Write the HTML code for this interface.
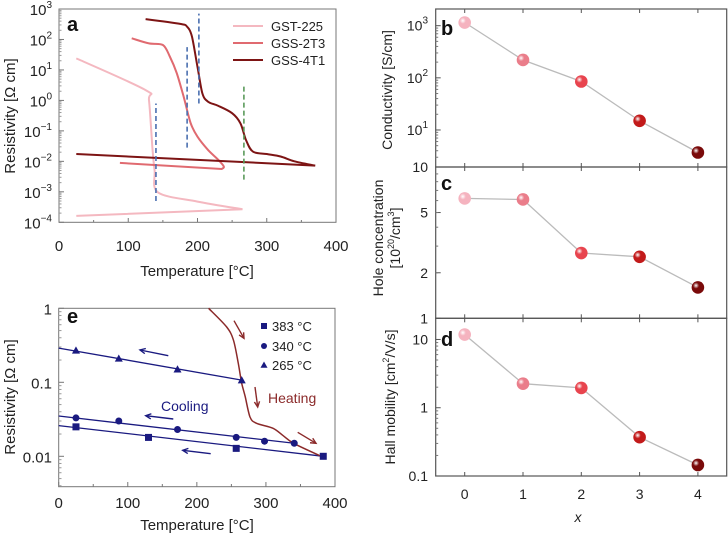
<!DOCTYPE html>
<html><head><meta charset="utf-8">
<style>
html,body{margin:0;padding:0;background:#fff;}
svg{display:block;font-family:"Liberation Sans",Arial,sans-serif;}
</style></head>
<body>
<svg id="fig" width="728" height="533" viewBox="0 0 728 533" xmlns="http://www.w3.org/2000/svg"></svg>
<script>
// ---------- Panel a data ----------
const gstT=[25,125,130,135,138,143,200,265,25];
const gstLog=[1.38,0.34,0.0,-1.6,-2.3,-3.02,-3.32,-3.57,-3.79];
const t23T=[105,130,150,160,170,180,190,200,215,230,238,235,88];
const t23Log=[2.04,1.87,1.82,1.44,0.9,0.12,-0.74,-1.19,-1.62,-1.95,-2.17,-2.25,-2.05];
const t41T=[125,175,185,192,200,207,215,230,250,262,270,280,300,320,340,370,25];
const t41Log=[2.67,2.51,2.42,2.09,1.1,0.24,-0.04,-0.18,-0.42,-0.75,-1.3,-1.68,-1.76,-1.84,-2.0,-2.14,-1.76];
const dashT=[140,185,202,267];
const dashLo=[-3.3,-1.55,-0.1,-2.6];
const dashHi=[-0.1,1.75,2.85,0.55];
const dashColors=["#4a6fb0","#4a6fb0","#4a6fb0","#5a9a5a"];
const aXTicks=[0,100,200,300,400];
const aYTicks=[-4,-3,-2,-1,0,1,2,3];
// ---------- Panel e data ----------
const triT=[25,87,172,265], triV=[0.27,0.21,0.15,0.107];
const cirT=[25,87,172,257,298,341], cirV=[0.033,0.030,0.023,0.018,0.016,0.015];
const sqT=[25,130,257,383], sqV=[0.025,0.018,0.0128,0.01];
const fitTri=[[0,0.29],[265,0.107]];
const fitCir=[[0,0.035],[341,0.015]];
const fitSq=[[0,0.026],[383,0.01]];
const heatT=[217,243,253,260,265,270,277,286,310,325,340,380];
const heatV=[1,0.56,0.37,0.18,0.097,0.064,0.034,0.028,0.024,0.019,0.015,0.01];
const eXTicks=[0,100,200,300,400];
// ---------- Panels b,c,d data ----------
const xCats=[0,1,2,3,4];
const condVals=[1150,220,85,15,3.7];
const holeVals=[6.2,6.1,2.7,2.55,1.6];
const mobVals=[11.8,2.25,1.95,0.37,0.145];
const dotColors=["#f5b3bf","#ea7d8a","#e8444e","#c21a1a","#7a0a0a"];

const NS="http://www.w3.org/2000/svg";
const svg=document.getElementById('fig');
function el(tag,attrs,parent){const e=document.createElementNS(NS,tag);for(const k in attrs)e.setAttribute(k,attrs[k]);(parent||svg).appendChild(e);return e;}
function txt(x,y,s,attrs,parent){const t=el('text',Object.assign({x:x,y:y},attrs||{}),parent);t.textContent=s;return t;}
// smooth path through points (Catmull-Rom); last segment straight if 'lastStraight'
function smooth(pts,lastStraight){
 const n=lastStraight?pts.length-1:pts.length;
 let d='M'+pts[0][0].toFixed(1)+','+pts[0][1].toFixed(1);
 for(let i=0;i<n-1;i++){
  const p0=pts[Math.max(0,i-1)],p1=pts[i],p2=pts[i+1],p3=pts[Math.min(n-1,i+2)];
  const k=0.16;
  const c1=[p1[0]+(p2[0]-p0[0])*k,p1[1]+(p2[1]-p0[1])*k];
  const c2=[p2[0]-(p3[0]-p1[0])*k,p2[1]-(p3[1]-p1[1])*k];
  d+=` C${c1[0].toFixed(1)},${c1[1].toFixed(1)} ${c2[0].toFixed(1)},${c2[1].toFixed(1)} ${p2[0].toFixed(1)},${p2[1].toFixed(1)}`;
 }
 if(lastStraight){const q=pts[pts.length-1];d+=` L${q[0].toFixed(1)},${q[1].toFixed(1)}`;}
 return d;}

const defs=el('defs',{});
dotColors.forEach((c,i)=>{const g=el('radialGradient',{id:'g'+i,cx:'0.35',cy:'0.35',r:'0.7'},defs);
el('stop',{offset:'0','stop-color':'#ffffff'},g);el('stop',{offset:'0.35','stop-color':c},g);el('stop',{offset:'1','stop-color':c},g);});

// ================= Panel a =================
const ga=el('g',{});


const aX=t=>59+(t/400)*277;
const aY=l=>9+(3-l)*30.47;
el('rect',{x:59,y:9,width:277,height:213.3,fill:'none',stroke:'#777','stroke-width':1},ga);
aXTicks.forEach(t=>{el('line',{x1:aX(t),x2:aX(t),y1:222.3,y2:218,stroke:'#777'},ga);
 const lb=txt(aX(t),251,String(t),{'font-size':15,'text-anchor':'middle',fill:'#222'},ga);
 });
for(let t=50;t<400;t+=100)el('line',{x1:aX(t),x2:aX(t),y1:222.3,y2:220,stroke:'#777'},ga);
aYTicks.forEach(l=>{el('line',{x1:59,x2:64,y1:aY(l),y2:aY(l),stroke:'#777'},ga);
 const lb=txt(52,aY(l)+6,'10',{'font-size':15,'text-anchor':'end',fill:'#222'},ga);
 const s=el('tspan',{dy:-7,'font-size':10},lb);s.textContent=l<0?'\u2212'+(-l):String(l);
 
 if(l<3)for(let m=2;m<10;m++){const yy=aY(l+Math.log10(m));el('line',{x1:59,x2:61.5,y1:yy,y2:yy,stroke:'#999'},ga);}});
let tt=txt(197,276,'Temperature [°C]',{'font-size':15,'text-anchor':'middle',fill:'#222'},ga);

tt=txt(0,0,'Resistivity [Ω cm]',{'font-size':15,'text-anchor':'middle',fill:'#222',transform:'translate(15,116) rotate(-90)'},ga);

function aPts(T,L){return T.map((t,i)=>[aX(t),aY(L[i])]);}
let p=el('path',{d:smooth(aPts(gstT,gstLog),true),fill:'none',stroke:'#f4b8c0','stroke-width':2},ga);

p=el('path',{d:smooth(aPts(t23T,t23Log),true),fill:'none',stroke:'#e06a70','stroke-width':2},ga);

p=el('path',{d:smooth(aPts(t41T,t41Log),true),fill:'none',stroke:'#7d1414','stroke-width':2},ga);

dashT.forEach((t,i)=>{const d=el('line',{x1:aX(t),x2:aX(t),y1:aY(dashLo[i]),y2:aY(dashHi[i]),stroke:dashColors[i],'stroke-width':1.6,'stroke-dasharray':'5,3'},ga);
 });
const legA=[['GST-225','#f4b8c0',26],['GSS-2T3','#e06a70',43],['GSS-4T1','#7d1414',60]];
legA.forEach(r=>{const g=el('g',{},ga);
 el('line',{x1:233,x2:263,y1:r[2],y2:r[2],stroke:r[1],'stroke-width':2},g);
 txt(271,r[2]+5,r[0],{'font-size':13,fill:'#222'},g);});
tt=txt(67,31,'a',{'font-size':20,'font-weight':'bold',fill:'#111'},ga);


// ================= Panel e =================
const ge=el('g',{});


const eX=t=>58.7+(t/400)*276.3;
const eY=v=>308.3-Math.log10(v)*74;
el('rect',{x:58.7,y:308.3,width:276.3,height:178.4,fill:'none',stroke:'#777'},ge);
eXTicks.forEach(t=>{el('line',{x1:eX(t),x2:eX(t),y1:486.7,y2:482,stroke:'#777'},ge);
 const lb=txt(eX(t),508,String(t),{'font-size':15,'text-anchor':'middle',fill:'#222'},ge);
 });
for(let t=50;t<400;t+=100)el('line',{x1:eX(t),x2:eX(t),y1:486.7,y2:484,stroke:'#777'},ge);
[[1,'1'],[0.1,'0.1'],[0.01,'0.01']].forEach(r=>{el('line',{x1:58.7,x2:64,y1:eY(r[0]),y2:eY(r[0]),stroke:'#777'},ge);
 const lb=txt(52,eY(r[0])+6,r[1],{'font-size':15,'text-anchor':'end',fill:'#222'},ge);
 });
[0.1,0.01,0.001].forEach(b=>{for(let m=2;m<10;m++){const v=b*m;const yy=eY(v);if(yy<486.7)el('line',{x1:58.7,x2:61.5,y1:yy,y2:yy,stroke:'#999'},ge);}});
tt=txt(197,530,'Temperature [°C]',{'font-size':15,'text-anchor':'middle',fill:'#222'},ge);

tt=txt(0,0,'Resistivity [Ω cm]',{'font-size':15,'text-anchor':'middle',fill:'#222',transform:'translate(15,397) rotate(-90)'},ge);

const navy='#1a1a80';
[fitTri,fitCir,fitSq].forEach(f=>{const l=el('line',{x1:eX(f[0][0]),y1:eY(f[0][1]),x2:eX(f[1][0]),y2:eY(f[1][1]),stroke:navy,'stroke-width':1.3},ge);
 });
p=el('path',{d:smooth(heatT.map((t,i)=>[eX(t),eY(heatV[i])]),false),fill:'none',stroke:'#8b2a2a','stroke-width':1.5},ge);

function tri(x,y,s){return `${x},${y-s} ${x-s},${y+s*0.8} ${x+s},${y+s*0.8}`;}
triT.forEach((t,i)=>{const m=el('polygon',{points:tri(eX(t),eY(triV[i]),4),fill:navy},ge);
 });
cirT.forEach((t,i)=>{const m=el('circle',{cx:eX(t),cy:eY(cirV[i]),r:3.5,fill:navy},ge);
 });
sqT.forEach((t,i)=>{const m=el('rect',{x:eX(t)-3.5,y:eY(sqV[i])-3.5,width:7,height:7,fill:navy},ge);
 });
function arrow(x1,y1,x2,y2,c,name){const g=el('g',{},ge);
 el('line',{x1:x1,y1:y1,x2:x2,y2:y2,stroke:c,'stroke-width':1.4},g);
 const a=Math.atan2(y2-y1,x2-x1),h=6;
 el('polyline',{points:`${x2-h*Math.cos(a-0.45)},${y2-h*Math.sin(a-0.45)} ${x2},${y2} ${x2-h*Math.cos(a+0.45)},${y2-h*Math.sin(a+0.45)}`,fill:'none',stroke:c,'stroke-width':1.4},g);}
arrow(234,320.7,244,338.3,'#8b2a2a','heating-arrow');
arrow(255,387,257.7,407,'#8b2a2a','heating-arrow');
arrow(297.7,432.3,316,443.3,'#8b2a2a','heating-arrow');
arrow(168.3,355.7,140,350,navy,'cooling-arrow');
arrow(173.3,419,145.7,415.7,navy,'cooling-arrow');
arrow(210.7,453.7,182.7,450.3,navy,'cooling-arrow');
tt=txt(161,411,'Cooling',{'font-size':14,fill:'#1a1a80'},ge);
tt=txt(268,403,'Heating',{'font-size':14,fill:'#8b2a2a'},ge);
const legE=[['383 °C',326,'sq'],['340 °C',346,'ci'],['265 °C',365,'tr']];
legE.forEach(r=>{const g=el('g',{},ge);
 if(r[2]==='sq')el('rect',{x:261,y:r[1]-3,width:6,height:6,fill:navy},g);
 else if(r[2]==='ci')el('circle',{cx:264,cy:r[1],r:3,fill:navy},g);
 else el('polygon',{points:tri(264,r[1],3.5),fill:navy},g);
 txt(272,r[1]+5,r[0],{'font-size':13,fill:'#222'},g);});
tt=txt(67,323,'e',{'font-size':20,'font-weight':'bold',fill:'#111'},ge);


// ================= Panels b,c,d =================
const bx=c=>464.7+c*58.3;
const L=435.7,R=726.7;
function panel(name,top,bot,lmin,lmax,vals,ticks,letter,letterY){
 const g=el('g',{});
 const y=v=>bot-(Math.log10(v)-lmin)/(lmax-lmin)*(bot-top);
 el('rect',{x:L,y:top,width:R-L,height:bot-top,fill:'none',stroke:'#555','stroke-width':1.2},g);
 xCats.forEach(c=>{el('line',{x1:bx(c),x2:bx(c),y1:bot,y2:bot-4,stroke:'#555'},g);el('line',{x1:bx(c),x2:bx(c),y1:top,y2:top+4,stroke:'#555'},g);});
 ticks.forEach(t=>{const yy=y(t[0]);el('line',{x1:L,x2:L+5,y1:yy,y2:yy,stroke:'#555'},g);
  if(t[1]!==null){const lb=txt(428,yy+5,t[1],{'font-size':14,'text-anchor':'end',fill:'#222'},g);
   if(t[2]){const s=el('tspan',{dy:-7,'font-size':10},lb);s.textContent=t[2];}
   }});
 const lo=Math.floor(lmin),hi=Math.ceil(lmax);
 for(let d=lo;d<hi;d++)for(let m=2;m<10;m++){const v=Math.pow(10,d)*m;const yy=y(v);if(yy>top+1&&yy<bot-1)el('line',{x1:L,x2:L+2.5,y1:yy,y2:yy,stroke:'#777'},g);}
 const ln=el('path',{d:xCats.map((c,i)=>(i?'L':'M')+bx(c)+','+y(vals[i]).toFixed(1)).join(' '),fill:'none',stroke:'#bbb','stroke-width':1.3},g);
 
 xCats.forEach((c,i)=>{const m=el('circle',{cx:bx(c),cy:y(vals[i]),r:6.3,fill:'url(#g'+i+')'},g);
  });
 const lt=txt(441,letterY,letter,{'font-size':20,'font-weight':'bold',fill:'#111'},g);
 
 return g;}
panel('panel-b',9,167,0.29,3.32,condVals,[[1000,'10','3'],[100,'10','2'],[10,'10','1']],'b',35);
panel('panel-c',167,318.3,0,1,holeVals,[[10,'10'],[5,'5'],[2,'2'],[1,'1']],'c',190);
panel('panel-d',318.3,476,-1,1.31,mobVals,[[10,'10'],[1,'1'],[0.1,'0.1']],'d',346);
xCats.forEach(c=>{const lb=txt(bx(c),499,String(c),{'font-size':14,'text-anchor':'middle',fill:'#222'});
 });
tt=txt(578,522,'x',{'font-size':14,'font-style':'italic','text-anchor':'middle',fill:'#222'});

tt=txt(0,0,'Conductivity [S/cm]',{'font-size':14,'text-anchor':'middle',fill:'#222',transform:'translate(392,90) rotate(-90)'});

tt=txt(0,0,'Hole concentration',{'font-size':14,'text-anchor':'middle',fill:'#222',transform:'translate(383,238) rotate(-90)'});

tt=txt(0,0,'[10',{'font-size':14,'text-anchor':'middle',fill:'#222',transform:'translate(400,238) rotate(-90)'});

let sp=el('tspan',{dy:-6,'font-size':9},tt);sp.textContent='20';
sp=el('tspan',{dy:6},tt);sp.textContent='/cm';
sp=el('tspan',{dy:-6,'font-size':9},tt);sp.textContent='3';
sp=el('tspan',{dy:6},tt);sp.textContent=']';
tt=txt(0,0,'Hall mobility [cm',{'font-size':14,'text-anchor':'middle',fill:'#222',transform:'translate(395,397) rotate(-90)'});

sp=el('tspan',{dy:-6,'font-size':9},tt);sp.textContent='2';
sp=el('tspan',{dy:6},tt);sp.textContent='/V/s]';
</script>
</body></html>
